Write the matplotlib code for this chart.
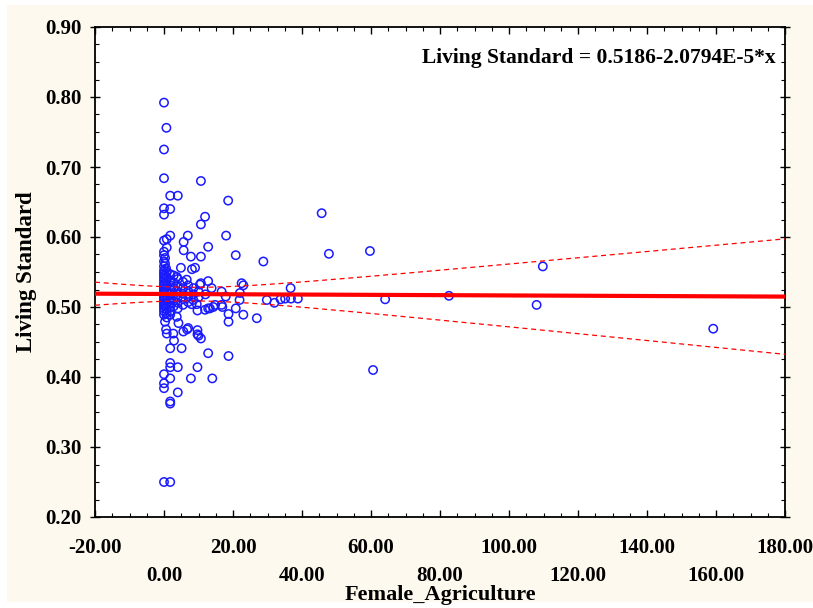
import numpy as np
import matplotlib
matplotlib.use("Agg")
import matplotlib.pyplot as plt
from matplotlib.patches import Rectangle
from matplotlib.ticker import MultipleLocator

# Scatter data (Female_Agriculture, Living Standard)
fem_agri = [
    0.0, 0.7, 0.0, 0.0, 10.7, 1.8, 4.0, 18.6, 0.0, 1.8, 0.0, 11.9, 10.7,
    1.8, 6.9, 18.0, 0.0, 0.8, 5.7, 0.8, 12.8, 5.7, 0.0, 0.0, 0.3, 7.8, 10.7,
    20.8, 28.8, 4.9, 8.1, 9.0, 0.6, 0.3, 45.7, 47.8, 59.7, 64.1, 60.6, 82.6,
    108.0, 109.8, 159.2,
    3.7, 6.6, 10.7, 12.8, 10.4, 13.8, 16.7, 17.9, 22.5, 23.0, 22.0, 21.9,
    29.8, 32.0, 33.8, 35.1, 36.8, 38.8, 36.7, 16.9, 14.8, 12.8, 11.9, 9.7,
    18.7, 18.7, 20.8, 23.0, 26.9, 8.0, 9.5, 7.0, 9.7, 9.7, 10.7, 2.9, 1.8,
    5.1, 12.8, 18.7, 1.8, 1.8, 4.0, 9.7, 0.0, 1.8, 7.8, 14.0, 0.0, 0.0, 4.0,
    1.8, 1.8, 0.0, 1.8,
    0.0, 0.3, 1.8, 3.7, 4.2, 0.6, 0.8, 2.7, 5.6, 6.7, 13.3, 14.3, 16.7, 10.0,
    0.0, 0.0, 0.0, 0.0, 0.0, 0.0, 0.0, 0.0, 0.0, 0.0, 0.0, 0.0, 0.0, 0.0,
    0.0, 0.0, 0.0, 0.0, 0.0, 0.0,
    0.8, 0.8, 0.8, 0.8, 0.8, 0.8, 0.8, 0.8, 0.8, 0.8, 0.8,
    1.8, 1.8, 1.8, 1.8, 1.8, 1.8, 1.8, 1.8, 1.8,
    2.8, 2.8, 2.8, 2.8, 2.8, 2.8,
    4.0, 4.0, 4.0, 4.0, 4.0, 4.0,
    5.5, 5.5, 5.5, 5.5, 5.5,
    7.0, 7.0, 7.0, 7.0,
    8.5, 8.5, 8.5,
    10.0, 10.0,
    12.0,
]
living_std = [
    0.792, 0.756, 0.725, 0.684, 0.680, 0.659, 0.659, 0.652, 0.641, 0.640,
    0.632, 0.629, 0.618, 0.602, 0.602, 0.602, 0.595, 0.597, 0.593, 0.585,
    0.586, 0.581, 0.579, 0.574, 0.570, 0.572, 0.572, 0.574, 0.565, 0.556,
    0.554, 0.556, 0.555, 0.562, 0.634, 0.576, 0.580, 0.511, 0.410, 0.516,
    0.503, 0.558, 0.469,
    0.543, 0.539, 0.534, 0.537, 0.532, 0.527, 0.522, 0.515, 0.534, 0.531,
    0.520, 0.510, 0.510, 0.506, 0.511, 0.512, 0.512, 0.512, 0.527, 0.500,
    0.503, 0.498, 0.496, 0.495, 0.490, 0.479, 0.498, 0.489, 0.484, 0.504,
    0.504, 0.470, 0.467, 0.461, 0.455, 0.452, 0.441, 0.441, 0.434, 0.430,
    0.420, 0.414, 0.414, 0.414, 0.404, 0.398, 0.398, 0.398, 0.391, 0.384,
    0.378, 0.365, 0.362, 0.250, 0.250,
    0.489, 0.479, 0.489, 0.486, 0.477, 0.468, 0.462, 0.462, 0.465, 0.468,
    0.498, 0.500, 0.503, 0.459,
    0.565, 0.558, 0.552, 0.548, 0.545, 0.541, 0.537, 0.533, 0.530, 0.527,
    0.524, 0.521, 0.518, 0.515, 0.512, 0.509, 0.505, 0.502, 0.498, 0.494,
    0.550, 0.543, 0.536, 0.529, 0.522, 0.516, 0.510, 0.503, 0.497, 0.491,
    0.485,
    0.547, 0.538, 0.531, 0.525, 0.519, 0.513, 0.506, 0.500, 0.494,
    0.545, 0.535, 0.527, 0.518, 0.509, 0.501,
    0.540, 0.530, 0.522, 0.514, 0.506, 0.498,
    0.536, 0.527, 0.519, 0.511, 0.503,
    0.531, 0.523, 0.515, 0.507,
    0.527, 0.518, 0.510,
    0.522, 0.514,
    0.518,
]

# fit shown on the chart, and its 95% band
intercept = 0.5186
slope = -2.0794e-5
band_h0 = 0.0097
band_k = 4.76e-4
band_xmean = 8.0

xticks = [-20, 0, 20, 40, 60, 80, 100, 120, 140, 160, 180]
yticks = [0.2, 0.3, 0.4, 0.5, 0.6, 0.7, 0.8, 0.9]

plt.rcParams["font.family"] = ["Liberation Serif", "DejaVu Serif"]
plt.rcParams["font.weight"] = "bold"

fig = plt.figure(figsize=(8.13, 6.08), dpi=100, facecolor="white")
fig.patches.append(Rectangle((7/813, 6/608), 806/813, 597/608,
                             transform=fig.transFigure, facecolor="#fdf9ee",
                             edgecolor="none", zorder=-10))
ax = fig.add_axes([95/813, 91/608, 690/813, 490/608])
ax.set_facecolor("white")

xs = np.linspace(-20, 180, 300)
fit = intercept + slope*xs
half = np.sqrt(band_h0**2 + (band_k*(xs - band_xmean))**2)

ax.scatter(fem_agri, living_std, s=36, facecolors="none",
           edgecolors="#1a1aff", linewidths=1.1, zorder=3)
ax.plot(xs, fit, color="red", lw=3.0, zorder=4)
ax.plot(xs, fit + half, color="red", lw=0.9, ls=(0, (4, 3)), zorder=4)
ax.plot(xs, fit - half, color="red", lw=0.9, ls=(0, (4, 3)), zorder=4)

ax.set_xlim(-20, 180)
ax.set_ylim(0.2, 0.9)
ax.set_xticks(xticks)
xlabels = []
for i, v in enumerate(xticks):
    lab = "%.2f" % v
    if i % 2 == 1:
        lab = "\n" + lab
    xlabels.append(lab)
ax.set_xticklabels(xlabels, fontsize=15, fontweight="bold", linespacing=1.55)
ax.set_yticks(yticks)
ax.set_yticklabels(["%.2f" % v for v in yticks], fontsize=15, fontweight="bold")
ax.xaxis.set_minor_locator(MultipleLocator(5))
ax.yaxis.set_minor_locator(MultipleLocator(0.025))
ax.tick_params(axis="x", which="major", direction="in", length=5, width=1,
               top=True, pad=15)
ax.tick_params(axis="x", which="minor", direction="in", length=3, width=0.8,
               top=True)
ax.tick_params(axis="y", which="major", direction="inout", length=7, width=1,
               right=True, pad=6)
ax.tick_params(axis="y", which="minor", direction="in", length=3, width=0.8,
               right=True)
for sp in ax.spines.values():
    sp.set_linewidth(1.3)

ax.set_xlabel("Female_Agriculture", fontsize=16, fontweight="bold", va="center")
ax.xaxis.set_label_coords(0.5, -0.159)
ax.set_ylabel("Living Standard", fontsize=16.5, fontweight="bold", labelpad=6)

ax.text(0.986, 0.937, "Living Standard = 0.5186-2.0794E-5*x",
        transform=ax.transAxes, ha="right", va="center",
        fontsize=15.5, fontweight="bold")

plt.savefig("out.png", dpi=100, facecolor=fig.get_facecolor())
